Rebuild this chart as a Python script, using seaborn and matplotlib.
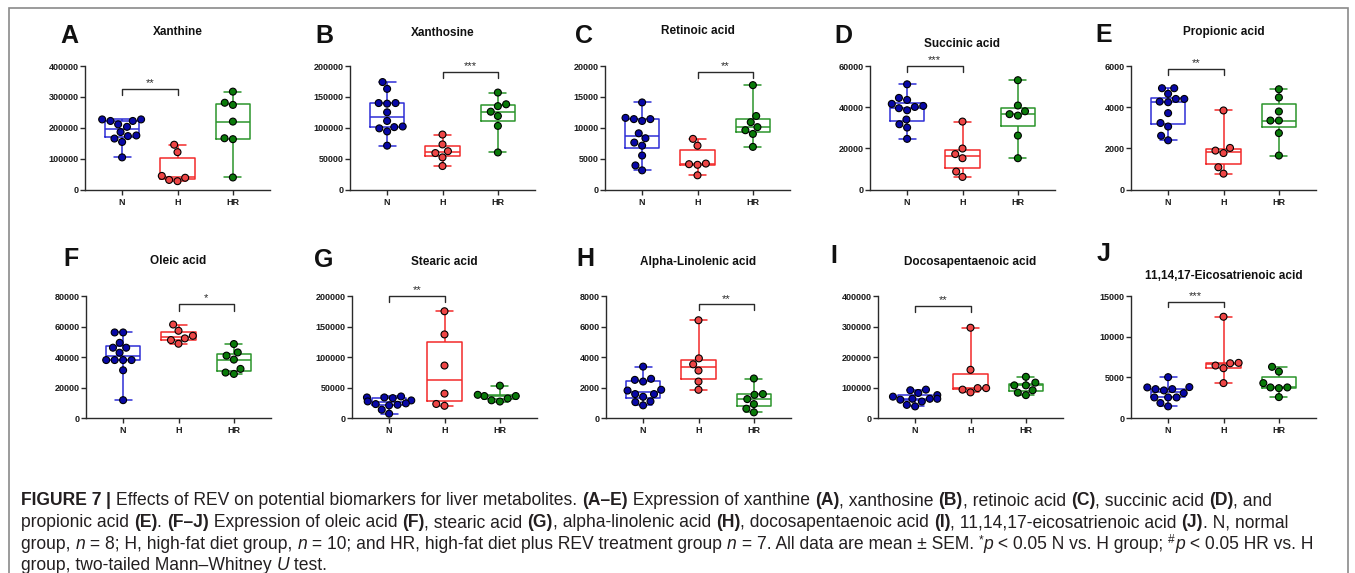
import numpy as np
import pandas as pd
import matplotlib
matplotlib.use("Agg")
import matplotlib.pyplot as plt
import matplotlib.transforms as mtransforms
from matplotlib import font_manager as fm
from matplotlib.patches import Rectangle
import seaborn as sns

# ---------------- data ----------------
GROUPS = ["N", "H", "HR"]

A_N = [222000, 227000, 227000, 222000, 203000, 211000, 173000, 175000, 186000, 154000, 165000, 104000]
A_H = [145000, 121000, 44000, 38000, 31000, 27000]
A_HR = [317000, 281000, 274000, 220000, 166000, 163000, 39000]

B_N = [174000, 163000, 140000, 140000, 139000, 125000, 111000, 101000, 102000, 99000, 94000, 71000]
B_H = [89000, 73000, 62000, 59000, 52000, 38000]
B_HR = [157000, 135000, 138000, 126000, 119000, 103000, 60000]

C_N = [14100, 11600, 11400, 11100, 11400, 9100, 8300, 7600, 7100, 5500, 3900, 3100]
C_H = [8200, 7100, 4100, 4200, 4000, 2300]
C_HR = [16900, 11900, 10900, 10100, 9600, 9000, 6900]

D_N = [51100, 43500, 44500, 41600, 39500, 40100, 40600, 38500, 34000, 31700, 30100, 24600]
D_H = [33000, 19900, 17200, 15200, 8700, 6100]
D_HR = [53100, 40800, 38000, 35900, 36600, 26200, 15200]

E_N = [4920, 4920, 4650, 4400, 4400, 4240, 4270, 3710, 3230, 3060, 2610, 2390]
E_H = [3840, 2020, 1770, 1890, 1080, 770]
E_HR = [4870, 4470, 3790, 3350, 3350, 2740, 1650]

F_N = [56100, 56100, 49300, 46100, 46100, 42800, 38000, 38000, 38000, 38000, 31300, 11700]
F_H = [61300, 53900, 57200, 52200, 48700, 51100]
F_HR = [48500, 40900, 43000, 38300, 32200, 28900, 29800]

G_N = [35300, 33700, 32600, 33700, 28800, 27200, 20700, 21700, 22800, 24000, 13600, 7100]
G_H = [175000, 137000, 86000, 40000, 20000, 23000]
G_HR = [53000, 36000, 36000, 38000, 32000, 27000, 29000]

H_N = [3370, 2390, 2570, 2500, 1800, 1850, 1390, 1570, 1570, 1040, 1090, 830]
H_H = [6410, 3910, 3520, 3110, 2390, 1850]
H_HR = [2590, 1520, 1570, 1240, 910, 610, 370]

I_N = [91000, 93000, 82000, 75000, 63000, 63000, 63000, 60000, 54000, 43000, 38000, 70000]
I_H = [296000, 158000, 98000, 98000, 93000, 84000]
I_HR = [135000, 116000, 107000, 107000, 91000, 83000, 75000]

J_N = [5020, 3760, 3390, 3550, 3550, 3800, 3060, 2530, 2530, 2530, 1840, 1430]
J_H = [12450, 6730, 6780, 6450, 6120, 4290]
J_HR = [6290, 5710, 4290, 3760, 3670, 3760, 2570]

PANEL_DATA = [
    (A_N, A_H, A_HR), (B_N, B_H, B_HR), (C_N, C_H, C_HR), (D_N, D_H, D_HR), (E_N, E_H, E_HR),
    (F_N, F_H, F_HR), (G_N, G_H, G_HR), (H_N, H_H, H_HR), (I_N, I_H, I_HR), (J_N, J_H, J_HR),
]
LETTERS = ["A", "B", "C", "D", "E", "F", "G", "H", "I", "J"]
TITLES = ["Xanthine", "Xanthosine", "Retinoic acid", "Succinic acid", "Propionic acid",
          "Oleic acid", "Stearic acid", "Alpha-Linolenic acid", "Docosapentaenoic acid",
          "11,14,17-Eicosatrienoic acid"]
Y_MAX = [400000, 200000, 20000, 60000, 6000, 80000, 200000, 8000, 400000, 15000]
Y_STEP = [100000, 50000, 5000, 20000, 2000, 20000, 50000, 2000, 100000, 5000]

SIG_PAIR = [("N", "H"), ("H", "HR"), ("H", "HR"), ("N", "H"), ("N", "H"),
            ("H", "HR"), ("N", "H"), ("H", "HR"), ("N", "H"), ("N", "H")]
SIG_LABEL = ["**", "***", "**", "***", "**", "*", "**", "**", "**", "***"]
SIG_TOP = [325000, 190000, 19100, 60000, 5850, 74600, 200500, 7450, 367000, 14300]
SIG_LEG = [305000, 180000, 18100, 57300, 5560, 70000, 190000, 7070, 346000, 13600]

# ---------------- style ----------------
BOX_COLORS = ["#2d2dd6", "#f22a2a", "#2b952b"]
DOT_COLORS = ["#0808a6", "#ee4646", "#097a09"]
AX_COLOR = "#2a2a2a"

W, H = 1355, 573
sns.set_style("ticks")
plt.rcParams["font.family"] = ["Liberation Sans", "DejaVu Sans"]

fig = plt.figure(figsize=(W / 100, H / 100), dpi=100)

# layout in pixels
AX_LEFT = [85, 350, 605, 870, 1131, 86, 352, 606, 878, 1131]
AX_W = 185
ROW_TOP = [66, 296]
ROW_BOT = [189.5, 418]
TITLE_Y = [32, 33, 31, 44, 32, 261, 262, 262, 262, 276]
LETTER_XY = [(69, 36), (324, 36), (584, 36), (843, 36), (1104, 35),
             (71, 259), (324, 260), (585, 259), (834, 256), (1104, 254)]


def px_axes(x, ytop, ybot, w):
    return fig.add_axes([x / W, 1 - ybot / H, w / W, (ybot - ytop) / H])


for i in range(10):
    row = 0 if i < 5 else 1
    ax = px_axes(AX_LEFT[i], ROW_TOP[row], ROW_BOT[row], AX_W)
    n, h, hr = PANEL_DATA[i]
    df = pd.DataFrame({
        "group": ["N"] * len(n) + ["H"] * len(h) + ["HR"] * len(hr),
        "value": list(n) + list(h) + list(hr),
    })
    sns.boxplot(data=df, x="group", y="value", hue="group", order=GROUPS, hue_order=GROUPS,
                palette=BOX_COLORS, fill=False, whis=(0, 100), width=0.62, linewidth=1.1,
                showfliers=False, legend=False, ax=ax)
    sns.swarmplot(data=df, x="group", y="value", hue="group", order=GROUPS, hue_order=GROUPS,
                  palette=DOT_COLORS, size=5, edgecolor="black", linewidth=0.8,
                  legend=False, ax=ax)
    ax.set_xlim(-0.67, 2.67)
    ax.set_ylim(0, Y_MAX[i])
    ticks = list(range(0, Y_MAX[i] + 1, Y_STEP[i]))
    ax.set_yticks(ticks, labels=[str(t) for t in ticks])
    ax.set_xlabel("")
    ax.set_ylabel("")
    for s in ["top", "right"]:
        ax.spines[s].set_visible(False)
    for s in ["left", "bottom"]:
        ax.spines[s].set_linewidth(1.0)
        ax.spines[s].set_color(AX_COLOR)
    ax.tick_params(axis="both", length=3.5, width=1.0, color=AX_COLOR, labelsize=6.5,
                   labelcolor="#1a1a1a")
    ax.tick_params(axis="y", pad=1)
    ax.tick_params(axis="x", pad=2.5)
    for lab in ax.get_xticklabels() + ax.get_yticklabels():
        lab.set_fontweight("bold")

    # significance bracket
    x1 = GROUPS.index(SIG_PAIR[i][0])
    x2 = GROUPS.index(SIG_PAIR[i][1])
    ax.plot([x1, x1, x2, x2], [SIG_LEG[i], SIG_TOP[i], SIG_TOP[i], SIG_LEG[i]],
            color=AX_COLOR, lw=1.0, clip_on=False)
    ax.annotate(SIG_LABEL[i], xy=((x1 + x2) / 2, SIG_TOP[i]), xytext=(0, 0.5),
                textcoords="offset points", ha="center", va="bottom", fontsize=8,
                color=AX_COLOR, annotation_clip=False)

    # title
    tr = mtransforms.blended_transform_factory(ax.transData, fig.transFigure)
    ax.text(1, 1 - TITLE_Y[i] / H, TITLES[i], transform=tr, ha="center", va="center",
            fontsize=8.5, fontweight="bold", color="#111111")
    lx, ly = LETTER_XY[i]
    fig.text(lx / W, 1 - ly / H, LETTERS[i], ha="center", va="center",
             fontsize=18, fontweight="bold", color="#111111")

# frame
fig.add_artist(Rectangle((9 / W, -0.1), (1348 - 9) / W, 0.1 + (H - 8) / H,
                         transform=fig.transFigure, fill=False, edgecolor="#8a8a8a", lw=1.2))

# ---------------- caption ----------------
def has_font(name):
    try:
        fm.findfont(fm.FontProperties(family=name), fallback_to_default=False)
        return True
    except Exception:
        return False


CAP_FAMILY = "Liberation Sans Narrow" if has_font("Liberation Sans Narrow") else "Liberation Sans"

CAP_LINES = [
    [("FIGURE 7 ", "b"), ("| ", "b"), ("Effects of REV on potential biomarkers for liver metabolites. ", "r"),
     ("(A–E)", "b"), (" Expression of xanthine ", "r"), ("(A)", "b"), (", xanthosine ", "r"), ("(B)", "b"),
     (", retinoic acid ", "r"), ("(C)", "b"), (", succinic acid ", "r"), ("(D)", "b"), (", and", "r")],
    [("propionic acid ", "r"), ("(E)", "b"), (". ", "r"), ("(F–J)", "b"), (" Expression of oleic acid ", "r"),
     ("(F)", "b"), (", stearic acid ", "r"), ("(G)", "b"), (", alpha-linolenic acid ", "r"), ("(H)", "b"),
     (", docosapentaenoic acid ", "r"), ("(I)", "b"), (", 11,14,17-eicosatrienoic acid ", "r"), ("(J)", "b"),
     (". N, normal", "r")],
    [("group, ", "r"), ("n", "i"), (" = 8; H, high-fat diet group, ", "r"), ("n", "i"),
     (" = 10; and HR, high-fat diet plus REV treatment group ", "r"), ("n", "i"),
     (" = 7. All data are mean ± SEM. ", "r"), ("*", "sup"), ("p", "i"), (" < 0.05 N vs. H group; ", "r"),
     ("#", "sup"), ("p", "i"), (" < 0.05 HR vs. H", "r")],
    [("group, two-tailed Mann–Whitney ", "r"), ("U", "i"), (" test.", "r")],
]
CAP_BASE_Y = [505, 527, 549, 570]
CAP_X0 = 21
CAP_X1 = 1322

renderer = fig.canvas.get_renderer()


def fprops(style, size):
    if style == "b":
        return fm.FontProperties(family=CAP_FAMILY, weight="bold", size=size)
    if style == "i":
        return fm.FontProperties(family=CAP_FAMILY, style="italic", size=size)
    if style == "sup":
        return fm.FontProperties(family=CAP_FAMILY, size=size * 0.68)
    return fm.FontProperties(family=CAP_FAMILY, size=size)


def run_width(s, style, size):
    fp = fprops(style, size)
    w1 = renderer.get_text_width_height_descent("|" + s + "|", fp, ismath=False)[0]
    w0 = renderer.get_text_width_height_descent("||", fp, ismath=False)[0]
    return w1 - w0


base = 10.0
w_line = sum(run_width(s, st, base) for s, st in CAP_LINES[2])
cap_size = base * (CAP_X1 - CAP_X0) / w_line

ident = mtransforms.IdentityTransform()
for line, by in zip(CAP_LINES, CAP_BASE_Y):
    x = CAP_X0
    for s, st in line:
        fp = fprops(st, cap_size)
        yoff = cap_size * 0.45 if st == "sup" else 0
        fig.text(x, H - by + yoff, s, fontproperties=fp, transform=ident,
                 ha="left", va="baseline", color="#231f20")
        x += run_width(s, st, cap_size)

fig.savefig("out.png", dpi=100)
